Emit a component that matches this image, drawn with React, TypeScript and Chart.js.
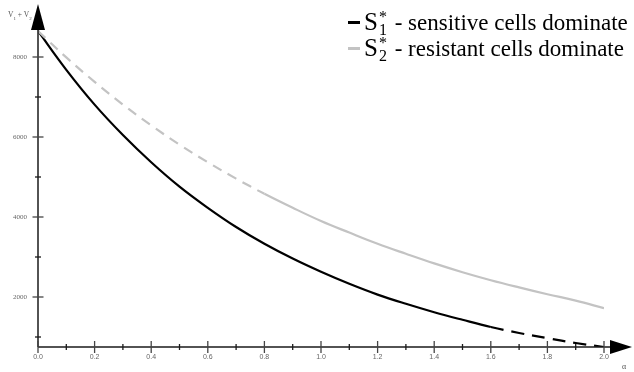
import React, { useEffect, useRef } from "react";
import { Chart, registerables } from "chart.js";
Chart.register(...registerables);

// alpha values along the x axis
const alphaValues = [0, 0.1, 0.2, 0.3, 0.4, 0.5, 0.6, 0.7, 0.8, 0.9, 1.0, 1.1, 1.2, 1.3, 1.4, 1.5, 1.6, 1.7, 1.8, 1.9, 2.0];
// S1* - sensitive cells dominate (V1 + V2)
const sensitiveTotals = [8650, 7680, 6810, 6050, 5370, 4760, 4230, 3750, 3330, 2960, 2630, 2330, 2060, 1830, 1620, 1430, 1250, 1100, 970, 850, 750];
// S2* - resistant cells dominate (V1 + V2)
const resistantTotals = [8650, 7990, 7380, 6810, 6290, 5810, 5370, 4960, 4580, 4230, 3900, 3610, 3330, 3080, 2840, 2620, 2420, 2240, 2070, 1910, 1720];
// where the line style switches
const sensitiveSolidUntil = 1.6;
const resistantDashedUntil = 0.8;
// axis ranges and ticks
const xMin = 0, xMax = 2.0;
const yMin = 750, yMax = 8700;
const xTickValues = [0, 0.1, 0.2, 0.3, 0.4, 0.5, 0.6, 0.7, 0.8, 0.9, 1.0, 1.1, 1.2, 1.3, 1.4, 1.5, 1.6, 1.7, 1.8, 1.9, 2.0];
const xTickLabels = ["0.0", "", "0.2", "", "0.4", "", "0.6", "", "0.8", "", "1.0", "", "1.2", "", "1.4", "", "1.6", "", "1.8", "", "2.0"];
const yTickValues = [1000, 2000, 3000, 4000, 5000, 6000, 7000, 8000];
const yTickLabels = ["", "2000", "", "4000", "", "6000", "", "8000"];

const AXIS = "#1a1a1a";

const axesPlugin = {
  id: "arrowAxes",
  afterDraw(chart: any) {
    const { ctx, chartArea } = chart;
    const xs = chart.scales.x;
    const ys = chart.scales.y;
    const ax = xs.getPixelForValue(xMin);
    const ay = ys.getPixelForValue(yMin);
    ctx.save();
    ctx.strokeStyle = AXIS;
    ctx.fillStyle = "#000";
    ctx.lineWidth = 1.5;
    ctx.beginPath();
    ctx.moveTo(ax, ay);
    ctx.lineTo(chartArea.right + 8, ay);
    ctx.stroke();
    ctx.beginPath();
    ctx.moveTo(ax, ay);
    ctx.lineTo(ax, chartArea.top);
    ctx.stroke();
    ctx.beginPath();
    ctx.moveTo(chartArea.right + 6, ay - 7);
    ctx.lineTo(chartArea.right + 28, ay);
    ctx.lineTo(chartArea.right + 6, ay + 7);
    ctx.closePath();
    ctx.fill();
    ctx.beginPath();
    ctx.moveTo(ax - 7, chartArea.top + 1);
    ctx.lineTo(ax, chartArea.top - 25);
    ctx.lineTo(ax + 7, chartArea.top + 1);
    ctx.closePath();
    ctx.fill();
    ctx.lineWidth = 1.3;
    xTickValues.forEach((v, i) => {
      const p = xs.getPixelForValue(v);
      const major = xTickLabels[i] !== "";
      const h = major ? 6 : 3;
      ctx.strokeStyle = major ? "#444" : AXIS;
      ctx.beginPath();
      ctx.moveTo(p, ay - h);
      ctx.lineTo(p, ay + h);
      ctx.stroke();
    });
    yTickValues.forEach((v, i) => {
      const p = ys.getPixelForValue(v);
      const major = yTickLabels[i] !== "";
      const w = major ? 5.5 : 3;
      ctx.strokeStyle = major ? "#444" : AXIS;
      ctx.beginPath();
      ctx.moveTo(ax - w, p);
      ctx.lineTo(ax + w, p);
      ctx.stroke();
    });
    ctx.restore();
  },
};

export default function App() {
  const ref = useRef<HTMLCanvasElement>(null);
  useEffect(() => {
    const canvas = ref.current!;
    const chart = new Chart(canvas, {
      type: "line",
      data: {
        datasets: [
          {
            label: "S2*",
            data: alphaValues.map((a, i) => ({ x: a, y: resistantTotals[i] })),
            borderColor: "#c3c3c3",
            borderWidth: 2.2,
            pointRadius: 0,
            tension: 0.4,
            segment: {
              borderDash: (c: any) => (c.p0.parsed.x < resistantDashedUntil - 1e-6 ? [10, 7] : undefined),
            },
          },
          {
            label: "S1*",
            data: alphaValues.map((a, i) => ({ x: a, y: sensitiveTotals[i] })),
            borderColor: "#000",
            borderWidth: 2.2,
            pointRadius: 0,
            tension: 0.4,
            segment: {
              borderDash: (c: any) => (c.p0.parsed.x >= sensitiveSolidUntil - 1e-6 ? [13, 8] : undefined),
            },
          },
        ],
      },
      options: {
        animation: false,
        responsive: true,
        maintainAspectRatio: false,
        layout: { padding: { top: 29, right: 30, left: 0, bottom: 0 } },
        plugins: { legend: { display: false }, tooltip: { enabled: false } },
        scales: {
          x: {
            type: "linear",
            min: xMin,
            max: xMax,
            grid: { display: false, drawTicks: false },
            border: { display: false },
            afterFit: (s: any) => { s.height = 25; },
            afterBuildTicks: (s: any) => { s.ticks = xTickValues.map((v) => ({ value: v })); },
            ticks: {
              autoSkip: false,
              maxRotation: 0,
              padding: 6,
              color: "#666",
              font: { family: "Liberation Sans", size: 7 },
              callback: (_v: any, i: number) => xTickLabels[i],
            },
          },
          y: {
            type: "linear",
            min: yMin,
            max: yMax,
            grid: { display: false, drawTicks: false },
            border: { display: false },
            afterFit: (s: any) => { s.width = 38; },
            afterBuildTicks: (s: any) => { s.ticks = yTickValues.map((v) => ({ value: v })); },
            ticks: {
              autoSkip: false,
              padding: 11,
              color: "#666",
              font: { family: "Liberation Serif", size: 7 },
              callback: (_v: any, i: number) => yTickLabels[i],
            },
          },
        },
      },
      plugins: [axesPlugin],
    });
    return () => chart.destroy();
  }, []);

  const script = (sub: string) => (
    <span style={{ position: "relative", display: "inline-block", width: 11, height: 10 }}>
      <span style={{ position: "absolute", left: 1, top: -17, fontSize: 16 }}>*</span>
      <span style={{ position: "absolute", left: 1, top: -4, fontSize: 16 }}>{sub}</span>
    </span>
  );

  const legendRow = (top: number, color: string, sub: string, text: string) => (
    <div style={{ position: "absolute", left: 348, top, height: 28, whiteSpace: "nowrap", fontFamily: "Liberation Serif", fontSize: 23, lineHeight: "28px", color: "#000" }}>
      <span style={{ display: "inline-block", width: 12, height: 3, background: color, verticalAlign: "middle", marginRight: 4, position: "relative", top: -2 }} />
      <span style={{ fontSize: 25 }}>S</span>
      {script(sub)}
      <span>{text}</span>
    </div>
  );

  return (
    <div style={{ position: "fixed", left: 0, top: 0, width: 634, height: 372, background: "#fff" }}>
      <canvas ref={ref} />
      <div style={{ position: "absolute", left: 8, top: 10, fontFamily: "Liberation Serif", fontSize: 7.5, color: "#555", whiteSpace: "nowrap" }}>
        V<sub style={{ fontSize: 5 }}>1</sub> + V<sub style={{ fontSize: 5 }}>2</sub>
      </div>
      <div style={{ position: "absolute", left: 622, top: 362, fontFamily: "Liberation Serif", fontSize: 8, color: "#555" }}>α</div>
      {legendRow(8, "#000", "1", " - sensitive cells dominate")}
      {legendRow(34, "#c3c3c3", "2", " - resistant cells dominate")}
    </div>
  );
}
